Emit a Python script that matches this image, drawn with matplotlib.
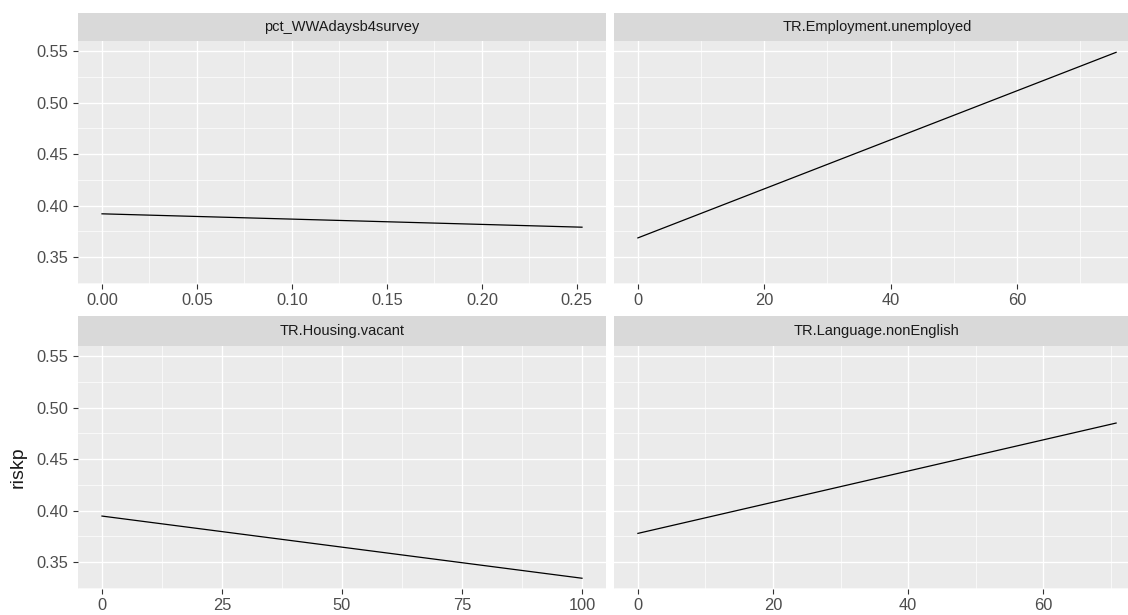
import numpy as np
import matplotlib
matplotlib.use("Agg")
import matplotlib.pyplot as plt
from matplotlib.ticker import FixedLocator

# Partial-dependence style lines of riskp against each predictor
facets = ["pct_WWAdaysb4survey", "TR.Employment.unemployed",
          "TR.Housing.vacant", "TR.Language.nonEnglish"]
x_values = [[0.0, 0.2527], [0.0, 75.7], [0.0, 100.0], [0.0, 70.8]]
y_values = [[0.392, 0.379], [0.3686, 0.549], [0.3948, 0.3345], [0.378, 0.485]]

x_major = [[0.0, 0.05, 0.10, 0.15, 0.20, 0.25], [0, 20, 40, 60],
           [0, 25, 50, 75, 100], [0, 20, 40, 60]]
x_labels = [["0.00", "0.05", "0.10", "0.15", "0.20", "0.25"], ["0", "20", "40", "60"],
            ["0", "25", "50", "75", "100"], ["0", "20", "40", "60"]]
y_major = [0.35, 0.40, 0.45, 0.50, 0.55]
y_labels = ["0.35", "0.40", "0.45", "0.50", "0.55"]
y_title = "riskp"

W, H = 1128, 615
fig = plt.figure(figsize=(W / 100, H / 100), dpi=100)
fig.patch.set_facecolor("white")

FONT = "Liberation Sans"
PANEL_BG = "#EBEBEB"
STRIP_BG = "#D9D9D9"
TICK_SIZE = 11.8


def px_rect(x0, y0, x1, y1):
    return [x0 / W, 1 - y1 / H, (x1 - x0) / W, (y1 - y0) / H]


# pixel boxes: (left, right) columns and (strip_top, panel_top, panel_bottom) rows
cols = [(78, 606), (614, 1140)]
rows = [(12.7, 41.3, 284), (316, 346, 589.3)]

# shared y range with 5% padding
all_y = np.concatenate([np.asarray(v) for v in y_values])
ypad = 0.05 * (all_y.max() - all_y.min())
ylim = (all_y.min() - ypad, all_y.max() + ypad)


def minor_between(ticks, lim):
    t = list(ticks)
    step = t[1] - t[0]
    cand = [t[0] - step / 2] + [a + step / 2 for a in t]
    return [c for c in cand if lim[0] <= c <= lim[1]]


for i, name in enumerate(facets):
    r, c = divmod(i, 2)
    xl, xr = cols[c]
    st, pt, pb = rows[r]

    ax = fig.add_axes(px_rect(xl, pt, xr, pb))
    ax.set_facecolor(PANEL_BG)
    for s in ax.spines.values():
        s.set_visible(False)

    xs = np.asarray(x_values[i])
    xpad = 0.05 * (xs.max() - xs.min())
    xlim = (xs.min() - xpad, xs.max() + xpad)
    ax.set_xlim(xlim)
    ax.set_ylim(ylim)

    # grid lines
    for v in minor_between(y_major, ylim):
        ax.axhline(v, color="white", lw=0.5, zorder=0.5)
    for v in minor_between(x_major[i], xlim):
        ax.axvline(v, color="white", lw=0.5, zorder=0.5)
    for v in y_major:
        ax.axhline(v, color="white", lw=0.95, zorder=0.6)
    for v in x_major[i]:
        ax.axvline(v, color="white", lw=0.95, zorder=0.6)

    ax.plot(xs, y_values[i], color="black", lw=0.9, zorder=3)

    ax.xaxis.set_major_locator(FixedLocator(x_major[i]))
    ax.set_xticklabels(x_labels[i], fontsize=TICK_SIZE, family=FONT, color="#4D4D4D")
    ax.yaxis.set_major_locator(FixedLocator(y_major))
    ax.tick_params(axis="x", which="major", direction="out", length=3.4,
                   width=0.8, color="#333333", pad=3.0)
    if c == 0:
        ax.set_yticklabels(y_labels, fontsize=TICK_SIZE, family=FONT, color="#4D4D4D")
        ax.tick_params(axis="y", which="major", direction="out", length=3.4,
                       width=0.8, color="#333333", pad=3.6)
    else:
        ax.set_yticklabels([])
        ax.tick_params(axis="y", length=0)

    # facet strip
    sax = fig.add_axes(px_rect(xl, st, xr, pt))
    sax.set_facecolor(STRIP_BG)
    sax.set_xticks([])
    sax.set_yticks([])
    for s in sax.spines.values():
        s.set_visible(False)
    sax.text(0.5, 0.5, name, ha="center", va="center", fontsize=10.5,
             family=FONT, color="#1A1A1A", transform=sax.transAxes)

fig.text(18.3 / W, 1 - 467.5 / H, y_title, rotation=90, ha="center", va="center",
         fontsize=14, family=FONT, color="#1A1A1A")

fig.savefig("out.png", dpi=100, facecolor="white")
